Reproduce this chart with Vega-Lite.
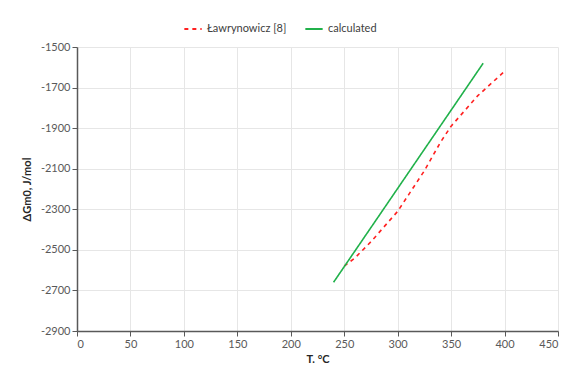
{
  "$schema": "https://vega.github.io/schema/vega-lite/v6.json",
  "width": 481,
  "height": 284,
  "autosize": {"type": "none"},
  "padding": {"left": 77, "top": 47, "right": 10, "bottom": 38},
  "background": "white",
  "data": {"values": [
    {"series": "Ławrynowicz [8]", "T": 250, "G": -2580},
    {"series": "Ławrynowicz [8]", "T": 260, "G": -2540},
    {"series": "Ławrynowicz [8]", "T": 275, "G": -2460},
    {"series": "Ławrynowicz [8]", "T": 290, "G": -2370},
    {"series": "Ławrynowicz [8]", "T": 300, "G": -2310},
    {"series": "Ławrynowicz [8]", "T": 310, "G": -2230},
    {"series": "Ławrynowicz [8]", "T": 325, "G": -2110},
    {"series": "Ławrynowicz [8]", "T": 340, "G": -1970},
    {"series": "Ławrynowicz [8]", "T": 350, "G": -1890},
    {"series": "Ławrynowicz [8]", "T": 375, "G": -1740},
    {"series": "Ławrynowicz [8]", "T": 400, "G": -1620},
    {"series": "calculated", "T": 240, "G": -2660},
    {"series": "calculated", "T": 380, "G": -1580}
  ]},
  "mark": {"type": "line", "strokeWidth": 1.6},
  "encoding": {
    "x": {"field": "T", "type": "quantitative", "title": "T. °C",
      "scale": {"domain": [0, 450], "nice": false},
      "axis": {"values": [0, 50, 100, 150, 200, 250, 300, 350, 400, 450], "titlePadding": 4, "labelExpr": "'' + datum.value"}},
    "y": {"field": "G", "type": "quantitative", "title": "ΔGm0, J/mol",
      "scale": {"domain": [-2900, -1500], "nice": false, "zero": false},
      "axis": {"values": [-2900, -2700, -2500, -2300, -2100, -1900, -1700, -1500], "titlePadding": 8, "labelExpr": "'' + datum.value"}},
    "color": {"field": "series", "type": "nominal",
      "scale": {"domain": ["Ławrynowicz [8]", "calculated"], "range": ["#ff2020", "#21b14b"]},
      "legend": {"title": null, "orient": "none", "direction": "horizontal", "legendX": 106, "legendY": -28,
        "symbolType": "stroke", "symbolSize": 300, "symbolStrokeWidth": 1.8, "labelFontSize": 11, "labelColor": "#404040", "columnPadding": 14}},
    "strokeDash": {"field": "series", "type": "nominal",
      "scale": {"domain": ["Ławrynowicz [8]", "calculated"], "range": [[4, 4], [1, 0]]},
      "legend": null}
  },
  "config": {
    "font": "Lato",
    "view": {"stroke": null},
    "axis": {
      "labelFont": "Lato", "labelFontSize": 11, "labelColor": "#595959",
      "titleFont": "Lato", "titleFontSize": 11, "titleFontWeight": "bold", "titleColor": "#262626",
      "gridColor": "#e6e6e6", "domainColor": "#595959", "domainWidth": 1.5,
      "tickColor": "#595959", "tickSize": 5
    },
    "legend": {"labelFont": "Lato"}
  }
}
